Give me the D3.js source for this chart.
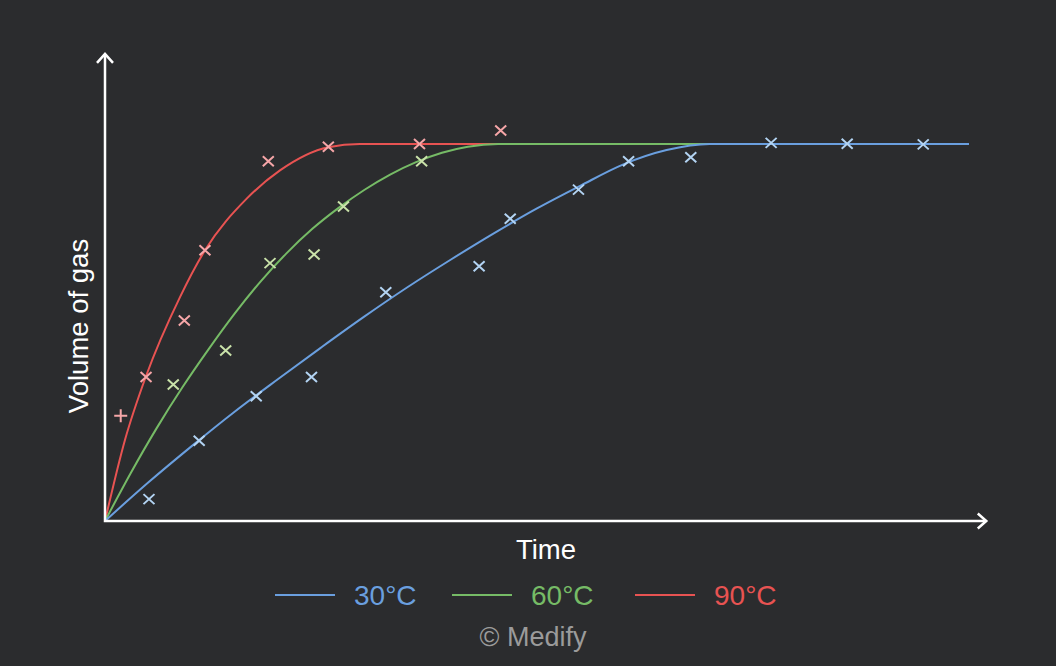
<!DOCTYPE html>
<html>
<head>
<meta charset="utf-8">
<script src="https://cdn.jsdelivr.net/npm/d3@7"></script>
<style>
  html, body { margin: 0; padding: 0; background: #2b2c2e; }
  svg { display: block; }
  text { font-family: "Liberation Sans", Arial, sans-serif; }
</style>
</head>
<body>
<svg id="chart" width="1056" height="666"></svg>
<script>
// ---- data (time units, volume as % of final) ----
const seriesNames = ["30°C", "60°C", "90°C"];

const curve30 = [[0,0],[5,10.2],[10,19.8],[15,29.0],[20,37.6],[25,46.0],[30,54.2],[35,62.0],[40,69.3],[45,76.3],[50,82.9],[55,88.9],[60,94.6],[65,98.4],[70,100],[100,100]];
const curve60 = [[0,0],[3,12.8],[6,24.7],[9,35.6],[12,45.6],[15,55.0],[18,63.5],[21,71.0],[24,77.5],[27,83.0],[30,87.8],[33,91.9],[36,95.2],[39,97.7],[42,99.3],[45.5,100],[100,100]];
const curve90 = [[0,0],[2.31,21.5],[4.71,38.2],[8.68,59.4],[11.57,71.8],[16.4,85.5],[20.25,93.0],[25.85,99.15],[29.5,100],[100,100]];

const points30 = [[5.09,5.8],[10.9,21.3],[17.5,33.1],[23.9,38.2],[32.5,60.7],[43.3,67.6],[46.9,80.2],[54.8,87.9],[60.6,95.4],[67.8,96.5],[77.1,100.3],[85.9,100.05],[94.7,99.9]];
const points60 = [[7.9,36.2],[13.97,45.2],[19.1,68.4],[24.2,70.7],[27.6,83.4],[36.65,95.4]];
const points90 = [[4.75,38.2],[9.18,53.2],[11.57,71.8],[18.9,95.4],[25.85,99.3],[36.4,100.0],[45.8,103.6]];
const points90Plus = [[1.82,27.9]];

const xLabel = "Time";
const yLabel = "Volume of gas";
const credit = "© Medify";

// ---- layout / style ----
const lineColors = ["#6a9fdf", "#76bb66", "#e85352"];
const markColors = ["#b3d4f3", "#c9e2a9", "#f6a6a8"];
const axisColor = "#ffffff";

const svg = d3.select("#chart");
svg.append("rect").attr("width", 1056).attr("height", 666).attr("fill", "#2b2c2e");

const x = d3.scaleLinear().domain([0, 100]).range([105, 969]);
const y = d3.scaleLinear().domain([0, 100]).range([521, 144]);
const xEnd = 102, yEnd = 123.9;

const line = d3.line().x(d => x(d[0])).y(d => y(d[1])).curve(d3.curveMonotoneX);

const curves = [curve30, curve60, curve90];
const pointsets = [points30, points60, points90];

// draw lines: red, then green, then blue on top
[2, 1, 0].forEach(i => {
  svg.append("path").datum(curves[i])
    .attr("d", line)
    .attr("fill", "none")
    .attr("stroke", lineColors[i])
    .attr("stroke-width", 2);
});

// markers
const cross = "M-5.5,-5L5.5,5M-5.5,5L5.5,-5";
const plus = "M-6.5,0L6.5,0M0,-6.5L0,6.5";
[2, 1, 0].forEach(i => {
  svg.append("g").selectAll("path").data(pointsets[i]).join("path")
    .attr("transform", d => `translate(${x(d[0])},${y(d[1])})`)
    .attr("d", cross)
    .attr("stroke", markColors[i])
    .attr("stroke-width", 2)
    .attr("fill", "none");
});
svg.append("g").selectAll("path").data(points90Plus).join("path")
  .attr("transform", d => `translate(${x(d[0])},${y(d[1])})`)
  .attr("d", plus)
  .attr("stroke", markColors[2])
  .attr("stroke-width", 2)
  .attr("fill", "none");

// axes with arrowheads
const x0 = x(0), y0 = y(0), xe = x(xEnd), ye = y(yEnd);
svg.append("path")
  .attr("d", `M${x0},${ye}L${x0},${y0}L${xe},${y0}`)
  .attr("fill", "none").attr("stroke", axisColor).attr("stroke-width", 2.5);
svg.append("path")
  .attr("d", `M${x0-8},${ye+9}L${x0},${ye}L${x0+8},${ye+9}`)
  .attr("fill", "none").attr("stroke", axisColor).attr("stroke-width", 2.5);
svg.append("path")
  .attr("d", `M${xe-8.5},${y0-7.5}L${xe},${y0}L${xe-8.5},${y0+7.5}`)
  .attr("fill", "none").attr("stroke", axisColor).attr("stroke-width", 2.5);

// axis labels
svg.append("text").attr("x", 546).attr("y", 559)
  .attr("text-anchor", "middle").attr("fill", "#ffffff")
  .attr("font-size", 27.5).text(xLabel);
svg.append("text")
  .attr("transform", "translate(88,326) rotate(-90)")
  .attr("text-anchor", "middle").attr("fill", "#ffffff")
  .attr("font-size", 27.5).text(yLabel);

// legend
const legendX = [275, 452, 635];
seriesNames.forEach((name, i) => {
  svg.append("line")
    .attr("x1", legendX[i]).attr("x2", legendX[i] + 60)
    .attr("y1", 595).attr("y2", 595)
    .attr("stroke", lineColors[i]).attr("stroke-width", 2);
  svg.append("text")
    .attr("x", legendX[i] + 79).attr("y", 605)
    .attr("fill", lineColors[i]).attr("font-size", 28)
    .text(name);
});

svg.append("text").attr("x", 533).attr("y", 646)
  .attr("text-anchor", "middle").attr("fill", "#9b9b9b")
  .attr("font-size", 27).text(credit);
</script>
</body>
</html>
